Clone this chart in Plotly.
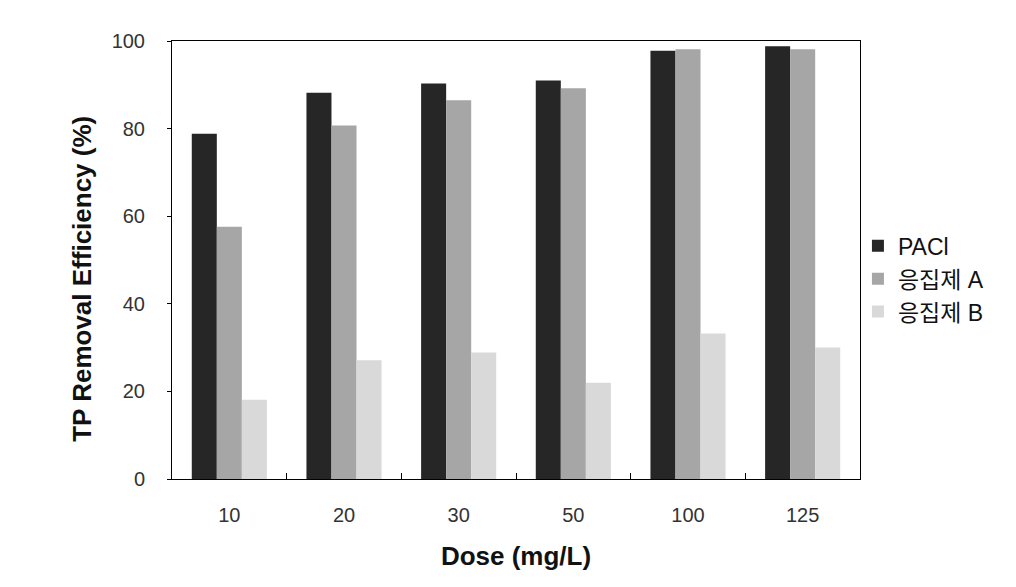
import plotly.graph_objects as go

doses = ["10", "20", "30", "50", "100", "125"]
pacl = [78.8, 88.2, 90.3, 91.0, 97.8, 98.8]
coag_a = [57.6, 80.7, 86.5, 89.2, 98.1, 98.1]
coag_b = [18.1, 27.1, 28.9, 22.0, 33.2, 30.0]

series_names = ["PACl", "응집제 A", "응집제 B"]
series_colors = ["#262626", "#a6a6a6", "#d9d9d9"]

font_family = "Liberation Sans, Arial, Noto Sans CJK KR, sans-serif"

fig = go.Figure()
for name, vals, color in zip(series_names, [pacl, coag_a, coag_b], series_colors):
    fig.add_trace(go.Bar(x=doses, y=vals, name=name, marker=dict(color=color, line_width=0)))

# page body has an 8px margin, so the figure is a bit smaller than the window
fig.update_layout(
    width=1000, height=571,
    barmode="group",
    bargap=0.345,
    bargroupgap=0,
    plot_bgcolor="white",
    paper_bgcolor="white",
    margin=dict(l=164, r=148, t=33, b=100),
    font=dict(family=font_family, color="#333333", size=20),
    legend=dict(
        x=0.997, y=0.457, xanchor="left", yanchor="middle",
        font=dict(size=23, color="#111111"),
        itemwidth=30, tracegroupgap=0,
        bgcolor="rgba(0,0,0,0)",
    ),
    showlegend=True,
)

fig.update_xaxes(
    type="category",
    showline=True, linecolor="black", linewidth=1, mirror=True,
    ticks="inside", tickson="boundaries", ticklen=6, tickcolor="black",
    tickfont=dict(size=20), ticklabelstandoff=18,
    title=dict(text="<b>Dose (mg/L)</b>", font=dict(size=26, color="#111111"), standoff=21),
)
fig.update_yaxes(
    range=[0, 100], dtick=20,
    showline=True, linecolor="black", linewidth=1, mirror=True,
    showgrid=False, zeroline=False,
    ticks="outside", ticklen=4, tickcolor="black",
    tickfont=dict(size=20), ticklabelstandoff=18,
)

# y title sits a little below the plot middle in the original
fig.add_annotation(
    text="<b>TP Removal Efficiency (%)</b>",
    xref="paper", yref="paper", x=0, y=0.457,
    xanchor="center", yanchor="middle", xshift=-90,
    textangle=-90, showarrow=False,
    font=dict(size=26, color="#111111"),
)

fig.write_html("out.html")
